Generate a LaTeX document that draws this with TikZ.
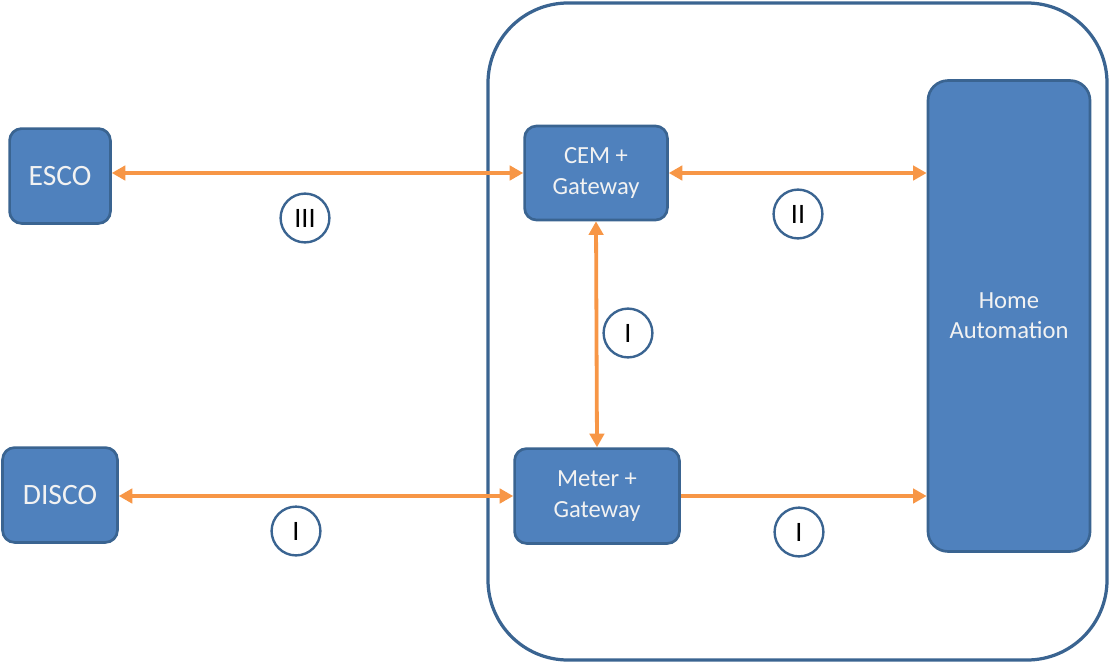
\documentclass[tikz,border=0pt]{standalone}
\usepackage{fontspec}
\setmainfont{Carlito}
\usetikzlibrary{arrows.meta}
\definecolor{boxblue}{HTML}{4F81BD}
\definecolor{boxline}{HTML}{3A6491}
\definecolor{linkorange}{HTML}{F79646}
\tikzset{
  box/.style={draw=boxline, fill=boxblue, line width=1.9pt, rounded corners=0.3cm,
    text=white!95!black, align=center, font=\fontsize{17.5}{21.5}\selectfont},
  bigbox/.style={box, font=\fontsize{21}{25}\selectfont},
  tag/.style={draw=boxline, fill=white, circle, line width=1.7pt, inner sep=0pt,
    minimum size=1.22cm, font=\fontsize{20}{24}\selectfont},
  link/.style={draw=linkorange, line width=2.7pt},
}
\begin{document}
\begin{tikzpicture}[x=0.025cm, y=-0.025cm, >={Triangle[length=0.34cm, width=0.36cm]}]
  \useasboundingbox (0,0) rectangle (1110,664);
  % house
  \draw[boxline, line width=2.3pt, rounded corners=2cm] (488,3) rectangle (1107,660);
  % boxes
  \node[bigbox, minimum width=2.52cm, minimum height=2.37cm] (esco) at (60,176) {ESCO};
  \node[bigbox, minimum width=2.87cm, minimum height=2.37cm] (disco) at (60,495) {DISCO};
  \node[box, minimum width=3.57cm, minimum height=2.35cm] (cem) at (596,173) {CEM +\\Gateway};
  \node[box, minimum width=4.12cm, minimum height=2.37cm] (meter) at (597,496) {Meter +\\Gateway};
  \node[box, minimum width=4.05cm, minimum height=11.77cm, rounded corners=0.5cm] (home) at (1009,316) {Home\\Automation};
  % links
  \draw[link, <->] (esco.east |- cem.west) -- (cem.west);
  \draw[link, <->] (cem.east) -- (cem.east -| home.west);
  \draw[link, <->] (cem.south) -- (meter.north);
  \draw[link, <->] (disco.east |- meter.west) -- (meter.west);
  \draw[link, ->] (meter.east) -- (meter.east -| home.west);
  % interfaces
  \node[tag] (t3) at (305,218) {III};
  \node[tag] (t2) at (798,214) {II};
  \node[tag] (t1a) at (628,333) {I};
  \node[tag] (t1b) at (296,531) {I};
  \node[tag] (t1c) at (799,532) {I};
\end{tikzpicture}
\end{document}
